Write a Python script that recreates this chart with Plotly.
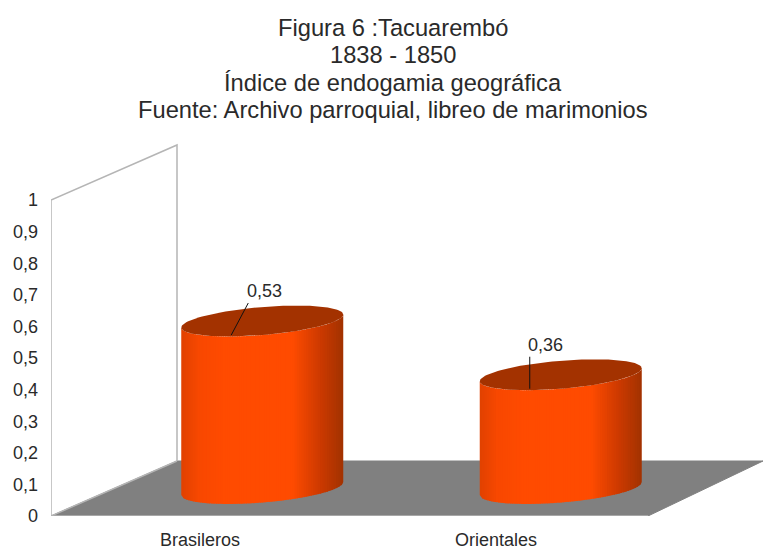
import numpy as np
import plotly.graph_objects as go

categories = ["Brasileros", "Orientales"]
values = [0.53, 0.36]
value_labels = ["0,53", "0,36"]
y_ticks = [0, 0.1, 0.2, 0.3, 0.4, 0.5, 0.6, 0.7, 0.8, 0.9, 1]
y_tick_labels = ["0", "0,1", "0,2", "0,3", "0,4", "0,5", "0,6", "0,7", "0,8", "0,9", "1"]
title_lines = ["Figura 6 :Tacuarembó", "1838 - 1850", "Índice de endogamia geográfica",
               "Fuente: Archivo parroquial, libreo de marimonios"]

W, H = 763, 548
ML, MB = 51, 32
PX_X = 298.5   # pixels per category
PX_Y = 316.0   # pixels per value unit
DX = 126 / PX_X   # oblique depth, x component
DY = 55 / PX_Y    # oblique depth, y component

FONT = "Liberation Sans"
TEXT = "#2a2a2a"
fig = go.Figure()

# floor
fig.add_trace(go.Scatter(x=[0, 2, 2 + 115 / PX_X, DX, 0], y=[0, 0, DY, DY, 0], mode="lines",
                         fill="toself", fillcolor="#808080", line=dict(color="#808080", width=1),
                         hoverinfo="skip", showlegend=False))
# wall outline
fig.add_trace(go.Scatter(x=[DX, 0, 0, DX, DX], y=[DY, 0, 1, 1 + DY, DY], mode="lines",
                         line=dict(color="#b5b5b5", width=1.5), hoverinfo="skip", showlegend=False))
# front edge of floor
fig.add_trace(go.Scatter(x=[0, 2], y=[0, 0], mode="lines", line=dict(color="#b5b5b5", width=1.5),
                         hoverinfo="skip", showlegend=False, cliponaxis=False))

A = 81 / PX_X      # ellipse half width
B = 14 / PX_Y      # ellipse half height
K = 6.5 / PX_Y     # ellipse tilt
CX_SHIFT = -1 / PX_X


def shade(f):
    stops = [(0, (226, 66, 0)), (0.1, (248, 72, 0)), (0.25, (255, 75, 0)), (0.68, (255, 76, 0)),
             (0.85, (205, 58, 0)), (1, (160, 50, 0))]
    xs = [s[0] for s in stops]
    rgb = [int(np.interp(f, xs, [s[1][c] for s in stops])) for c in range(3)]
    return "rgb(%d,%d,%d)" % tuple(rgb)


N = 70
for i, v in enumerate(values):
    cx = i + 0.5 + DX / 2 + CX_SHIFT
    base = DY / 2
    edges = np.linspace(-1, 1, N + 1)
    for e0, e1 in zip(edges[:-1], edges[1:]):
        ee = np.linspace(e0, min(e1 + 0.012, 1), 4)
        ycurve = -B * np.sqrt(1 - ee ** 2) + K * ee
        xs = cx + A * ee
        fig.add_trace(go.Scatter(
            x=np.r_[xs, xs[::-1]], y=np.r_[base + ycurve, (base + v + ycurve)[::-1]],
            mode="lines", fill="toself", fillcolor=shade((e0 + 1) / 2), line=dict(width=0),
            hoverinfo="skip", showlegend=False))
    t = np.linspace(0, 2 * np.pi, 121)
    fig.add_trace(go.Scatter(
        x=cx + A * np.cos(t), y=base + v + B * np.sin(t) + K * np.cos(t), mode="lines",
        fill="toself", fillcolor="#a33200", line=dict(width=0), hoverinfo="skip", showlegend=False))

# data labels and leaders
label_shift = [17 / PX_X, 0.0]
text_shift = [-3 / PX_X, 15.5 / PX_X]
for i, v in enumerate(values):
    lx = i + 0.5 + DX / 2 - 32 / PX_X
    ly = DY / 2 + v - 14 / PX_Y
    tx = lx + label_shift[i]
    ty = ly + 32 / PX_Y
    fig.add_trace(go.Scatter(x=[lx, tx], y=[ly, ty], mode="lines", line=dict(color="#111111", width=1),
                             hoverinfo="skip", showlegend=False))
    fig.add_annotation(x=tx + text_shift[i], y=ty, xref="x", yref="y", text=value_labels[i], showarrow=False,
                       xanchor="left" if i == 0 else "center", yanchor="bottom", yshift=0,
                       font=dict(family=FONT, size=18, color=TEXT))

# title lines
title_centres = [28, 55, 83, 110]
for line, yc in zip(title_lines, title_centres):
    fig.add_annotation(x=(392.5 - ML) / (W - ML), y=1 - yc / (H - MB), xref="paper", yref="paper", text=line,
                       showarrow=False, xanchor="center", yanchor="middle", yshift=0,
                       font=dict(family=FONT, size=23.7, color=TEXT))

# category labels
cat_centres = [0.5, 1.49]
for name, cc in zip(categories, cat_centres):
    fig.add_annotation(x=cc, y=-24 / (H - MB), xref="x", yref="paper", text=name, showarrow=False,
                       xanchor="center", yanchor="middle", yshift=0,
                       font=dict(family=FONT, size=18, color=TEXT))

fig.update_layout(
    width=W, height=H, autosize=False,
    margin=dict(l=ML, r=0, t=0, b=MB, pad=0),
    paper_bgcolor="white", plot_bgcolor="white", showlegend=False,
    xaxis=dict(range=[0, (W - ML) / PX_X], showticklabels=False,
               showgrid=False, zeroline=False, showline=False, ticks=""),
    yaxis=dict(range=[0, (H - MB) / PX_Y], tickmode="array", tickvals=y_ticks, ticktext=y_tick_labels,
               showgrid=False, zeroline=False, showline=False, ticks="", automargin=False,
               ticklabelstandoff=12, tickfont=dict(family=FONT, size=18, color=TEXT)),
)
fig.write_html("out.html", config={"displayModeBar": False},
               post_script="document.body.style.margin='0';document.documentElement.style.overflow='hidden';")
